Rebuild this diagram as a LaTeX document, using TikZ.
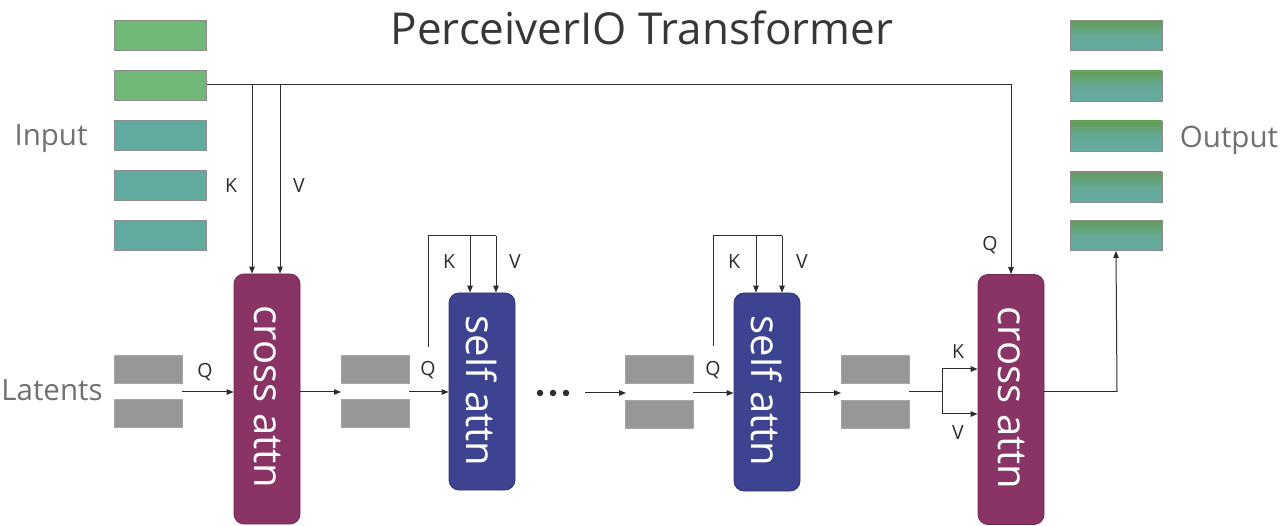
\documentclass[tikz,border=0pt]{standalone}
\usepackage{fontspec}
\setmainfont{Open Sans}
\usetikzlibrary{arrows.meta}
\definecolor{ingreen}{RGB}{112,184,117}
\definecolor{inteal}{RGB}{96,170,160}
\definecolor{outtop}{RGB}{98,156,86}
\definecolor{outbot}{RGB}{100,170,160}
\definecolor{latgray}{RGB}{150,151,151}
\definecolor{crossc}{RGB}{137,52,100}
\definecolor{selfc}{RGB}{61,66,145}
\definecolor{linec}{RGB}{45,45,45}
\definecolor{labc}{RGB}{112,112,112}
\definecolor{titlec}{RGB}{55,55,55}
\tikzset{
  inbox/.style={draw=black!45,line width=0.8pt,minimum width=92,minimum height=30,inner sep=0},
  outbox/.style={inbox,top color=outtop,bottom color=outbot,middle color=outbot!85!outtop},
  latbox/.style={draw=black!35,line width=0.8pt,fill=latgray,minimum width=68,minimum height=28,inner sep=0},
  attn/.style={rounded corners=10pt,draw=#1!80!black,line width=0.8pt,fill=#1,minimum width=66,inner sep=0},
  attntext/.style={rotate=-90,text=white,font=\fontsize{40}{40}\selectfont},
  conn/.style={draw=linec,line width=1pt},
  arr/.style={conn,-{Triangle[length=7pt,width=5.5pt]}},
  kqv/.style={text=linec,font=\fontsize{19.5}{19.5}\selectfont,inner sep=0},
  biglab/.style={text=labc,font=\fontsize{29.5}{29.5}\selectfont,inner sep=0},
  dot/.style={circle,fill=linec,inner sep=0,minimum size=6.5}
}
\begin{document}
\begin{tikzpicture}[x=1pt,y=-1pt]
\useasboundingbox (0,0) rectangle (1280,526);
% title
\node[text=titlec,font=\fontsize{44}{44}\selectfont,inner sep=0] (title) at (642,28) {PerceiverIO Transformer};
% labels
\node[biglab] (inlab) at (51,139) {Input};
\node[biglab] (latlab) at (52,390) {Latents};
\node[biglab] (outlab) at (1229,140) {Output};
% input boxes
\node[inbox,fill=ingreen] (in1) at (160.5,35) {};
\node[inbox,fill=ingreen] (in2) at (160.5,85) {};
\node[inbox,fill=inteal] (in3) at (160.5,135) {};
\node[inbox,fill=inteal] (in4) at (160.5,185) {};
\node[inbox,fill=inteal] (in5) at (160.5,235) {};
% output boxes
\node[outbox] (out1) at (1116,35.5) {};
\node[outbox] (out2) at (1116,86) {};
\node[outbox] (out3) at (1116,136) {};
\node[outbox] (out4) at (1116,187) {};
\node[outbox] (out5) at (1116,235.5) {};
% latent boxes
\node[latbox] (la1) at (148,369.5) {};
\node[latbox] (lb1) at (148,413.5) {};
\node[latbox] (la2) at (375,369.5) {};
\node[latbox] (lb2) at (375,413.5) {};
\node[latbox] (la3) at (659.5,369.5) {};
\node[latbox] (lb3) at (659.5,414) {};
\node[latbox] (la4) at (875,369.5) {};
\node[latbox] (lb4) at (875,414) {};
% attention blocks
\node[attn=crossc,minimum height=250] (ca1) at (267,399) {};
\node[attntext] (ca1t) at (267,397) {cross attn};
\node[attn=selfc,minimum height=197] (sa1) at (482,391.5) {};
\node[attntext] (sa1t) at (482,391) {self attn};
\node[attn=selfc,minimum height=198] (sa2) at (767,392) {};
\node[attntext] (sa2t) at (767,391) {self attn};
\node[attn=crossc,minimum height=250] (ca2) at (1011,399.5) {};
\node[attntext] (ca2t) at (1011,398) {cross attn};
% dots
\node[dot] (d1) at (540,393) {};
\node[dot] (d2) at (553,393) {};
\node[dot] (d3) at (566,393) {};
% coordinates
\coordinate (kx1) at (252,85);
\coordinate (vx1) at (280,85);
\coordinate (l1o) at (182,392);
\coordinate (l2i) at (341,392);
\coordinate (l2o) at (409,392);
\coordinate (q1top) at (428,347);
\coordinate (loop1) at (428,236);
\coordinate (k1) at (470,236);
\coordinate (v1) at (496,236);
\coordinate (pre3) at (585,393);
\coordinate (l3i) at (626,393);
\coordinate (l3o) at (693,393);
\coordinate (q2top) at (713,346);
\coordinate (loop2) at (713,236);
\coordinate (k2) at (756,236);
\coordinate (v2) at (782,236);
\coordinate (l4i) at (841,393);
\coordinate (l4o) at (909,392);
\coordinate (br) at (942,392);
\coordinate (bk) at (942,369);
\coordinate (bv) at (942,414);
\coordinate (oc) at (1117,392);
% input connectors
\draw[arr] (in2.east) -| (ca2.north);
\draw[arr] (kx1) -- (kx1 |- ca1.north);
\draw[arr] (vx1) -- (vx1 |- ca1.north);
% latent flow
\draw[arr] (l1o) -- (l1o -| ca1.west);
\draw[arr] (ca1.east |- l2i) -- (l2i);
\draw[arr] (l2o) -- (l2o -| sa1.west);
\draw[conn] (q1top) -- (loop1) -- (v1);
\draw[arr] (k1) -- (k1 |- sa1.north);
\draw[arr] (v1) -- (v1 |- sa1.north);
\draw[arr] (pre3) -- (l3i);
\draw[arr] (l3o) -- (l3o -| sa2.west);
\draw[conn] (q2top) -- (loop2) -- (v2);
\draw[arr] (k2) -- (k2 |- sa2.north);
\draw[arr] (v2) -- (v2 |- sa2.north);
\draw[arr] (sa2.east |- l4i) -- (l4i);
\draw[conn] (l4o) -- (br);
\draw[conn] (bk) -- (bv);
\draw[arr] (bk) -- (bk -| ca2.west);
\draw[arr] (bv) -- (bv -| ca2.west);
\draw[conn] (ca2.east |- oc) -- (oc);
\draw[arr] (oc) -- (out5.south);
% K Q V labels
\node[kqv] (tq0) at (205,372) {Q};
\node[kqv] (tk0) at (231,186) {K};
\node[kqv] (tv0) at (299,186) {V};
\node[kqv] (tq1) at (428,370) {Q};
\node[kqv] (tk1) at (449,262) {K};
\node[kqv] (tv1) at (515,262) {V};
\node[kqv] (tq2) at (713,370) {Q};
\node[kqv] (tk2) at (734,262) {K};
\node[kqv] (tv2) at (802,262) {V};
\node[kqv] (tk3) at (958,352) {K};
\node[kqv] (tv3) at (958,433) {V};
\node[kqv] (tq3) at (990,245) {Q};
\end{tikzpicture}
\end{document}
